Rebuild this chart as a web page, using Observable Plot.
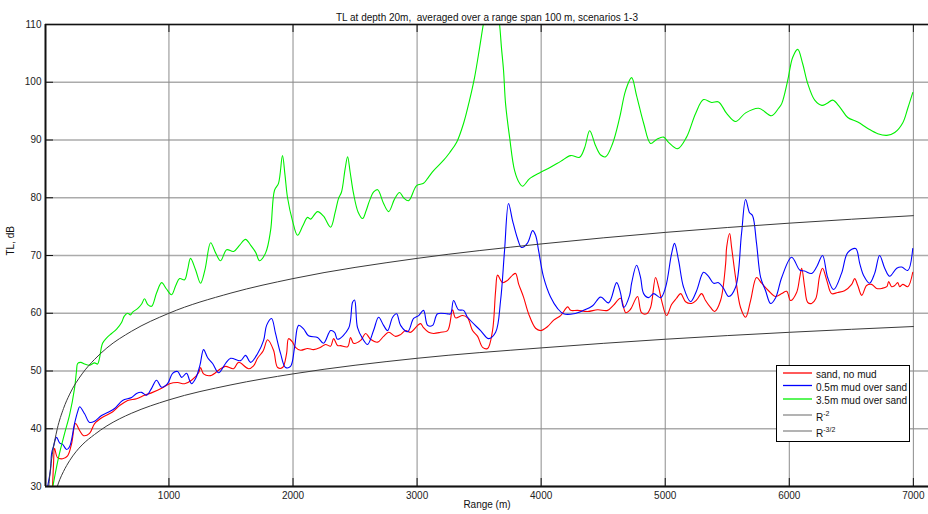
<!DOCTYPE html>
<html>
<head>
<meta charset="utf-8">
<script src="https://cdn.jsdelivr.net/npm/d3@7"></script>
<script src="https://cdn.jsdelivr.net/npm/@observablehq/plot@0.6"></script>
<style>
  html, body { margin: 0; padding: 0; background: #fff; }
  #wrap { position: relative; width: 928px; height: 514px; overflow: hidden; }
</style>
</head>
<body>
<div id="wrap"></div>
<script>
// ---------------- data ----------------
const titleText = "TL at depth 20m,  averaged over a range span 100 m, scenarios 1-3";
const xLabel = "Range (m)";
const yLabel = "TL, dB";
const xTicks = [1000, 2000, 3000, 4000, 5000, 6000, 7000];
const yTicks = [30, 40, 50, 60, 70, 80, 90, 100, 110];
const seriesNames = ["sand, no mud", "0.5m mud over sand", "3.5m mud over sand"];
const refNames = [["R", "-2"], ["R", "-3/2"]];

// scenario 3: 3.5 m mud over sand (green)
const greenRange = [60,110,159,200,239,255,264,290,320,360,400,425,440,465,500,538,580,618,640,667,690,707,747,780,803,830,860,900,941,980,1021,1055,1086,1126,1150,1174,1215,1255,1290,1336,1375,1416,1465,1521,1570,1617,1658,1700,1730,1780,1819,1851,1883,1915,1935,1956,1996,2036,2080,2117,2141,2198,2246,2303,2340,2367,2391,2420,2440,2460,2488,2525,2561,2590,2617,2650,2682,2730,2771,2819,2859,2891,2932,2996,3052,3090,3133,3214,3262,3319,3375,3423,3463,3504,3536,3570,3600,3640,3665,3680,3697,3713,3746,3786,3826,3850,3907,3996,4068,4157,4238,4310,4351,4391,4439,4480,4520,4576,4633,4681,4729,4769,4826,4882,4931,4987,5027,5100,5172,5245,5309,5374,5430,5495,5567,5648,5753,5857,5914,5939,5987,6027,6068,6108,6148,6205,6262,6302,6350,6407,6471,6552,6633,6713,6786,6850,6915,6955,6995];
const greenTL = [29.5,35,39.2,42.5,47,50,51.3,51.5,51.2,51,51.4,51.2,52.2,54.8,55.8,56.5,57.3,58.4,59.5,60,59.7,60.2,60.8,61.6,62.5,61.5,61.2,63.5,65.3,64.2,63.2,64.8,66,65.8,67.5,69.5,67.5,65.2,67.5,72.2,70.5,69.1,71,70.7,71.8,72.8,71.8,70.5,69.1,70.5,74.3,81.3,82.5,87.3,84,80,76,73.5,75.2,76.6,76.3,77.6,76.8,74.9,77.5,79.9,81,85,87.1,84.5,80.7,77.5,76.4,77.8,79.5,81,81.4,79,77.6,79.8,80.9,80,79.5,82.1,82.5,83.5,84.7,86.5,87.8,89.6,92.9,96.9,100.8,106,110.3,114,116,114,110,106,102,96.3,90.4,84.7,82.5,82,83.3,84.4,85.2,86.3,87.3,87,88.7,91.6,89,87.4,87.1,89.4,93.9,98.6,100.8,97.7,92.9,89.4,90.1,90.5,89.6,88.5,90.5,94.6,97,96.5,96.6,94.6,93.2,94.7,95.5,94.2,95.5,96.3,100.3,104.3,105.7,103.2,99.8,96.9,96,96.3,96.9,95.7,93.9,93.1,92,91.1,90.8,91.3,93,95.5,98.2];

// scenario 2: 0.5 m mud over sand (blue)
const blueRange = [22,46,54,70,94,120,143,175,199,239,265,280,320,360,401,457,505,562,626,699,739,779,820,860,900,941,989,1029,1070,1102,1142,1166,1182,1215,1250,1279,1312,1352,1400,1456,1497,1577,1617,1658,1714,1763,1787,1827,1859,1900,1940,1980,2012,2045,2085,2125,2198,2246,2303,2335,2359,2448,2480,2496,2520,2561,2601,2649,2690,2730,2762,2803,2835,2867,2924,2972,3013,3052,3085,3125,3165,3246,3270,3294,3334,3375,3407,3512,3576,3633,3673,3705,3737,3770,3810,3842,3891,3931,3955,3979,4020,4076,4133,4181,4262,4342,4415,4479,4544,4608,4640,4665,4713,4729,4769,4801,4826,4866,4906,4963,5003,5051,5075,5108,5148,5204,5253,5309,5349,5390,5430,5470,5511,5567,5615,5648,5680,5704,5736,5769,5809,5849,5890,5939,6019,6084,6124,6180,6220,6268,6309,6358,6421,6471,6535,6568,6600,6647,6688,6728,6769,6809,6866,6906,6955,6995];
const blueTL = [30,33,35.7,37,38.5,37.5,37.3,36.4,36.9,40.9,43,43.8,42.6,41.1,41.3,42.3,42.8,43.5,44.9,45.4,46.1,46.3,45.8,47,48.4,47.2,47.8,49.6,49.9,48.9,49.6,48.4,47.8,48.7,51,53.7,52.3,51.3,49.7,51.3,52.2,51.8,52.7,51.5,53,55.3,57.9,59.1,56.5,53,50.6,50.8,54,57.9,57.3,56.1,55.8,54.8,57,56.7,55.5,57.4,61.9,62.3,57.5,55.6,54.6,57,59.3,57.9,57,59.3,59.9,57.9,56.8,59.1,59.6,60.5,57.9,57.9,59.9,59.9,59.9,62.2,60.6,60.5,59.3,57,55.6,56.7,62.2,70.9,79,76,72.9,71.4,72.2,74.3,73.5,70.9,66.2,62.8,60.8,59.9,59.9,60.5,61.3,62.8,61.8,65.3,63.5,61,63.1,65.2,68.3,66.2,63.4,62.7,63.4,62.7,64.5,70.3,72.1,69.1,64.5,62,63.9,67.1,66.4,65.2,65.3,64.3,62.9,64.5,73.8,79.7,77.4,76.9,72.1,66.2,63.9,61.7,62.7,66.2,69.7,67.5,67.3,66.9,68,70,66.2,64.1,66.9,70.5,71.2,68.6,66.5,65.2,66.9,70,67.8,66.4,67.8,68,67.4,71.2];

// scenario 1: sand, no mud (red)
const redRange = [62,70,78,102,143,183,215,247,280,312,360,401,465,538,602,667,739,803,868,941,1005,1070,1126,1182,1239,1255,1279,1336,1416,1456,1521,1561,1642,1682,1714,1760,1795,1843,1876,1916,1948,1964,1996,2020,2061,2117,2166,2222,2262,2303,2327,2359,2383,2440,2464,2488,2545,2585,2625,2682,2730,2771,2827,2867,2907,2948,3005,3029,3052,3093,3133,3190,3246,3286,3310,3367,3407,3447,3488,3528,3568,3608,3633,3649,3689,3729,3770,3794,3818,3858,3899,3955,3996,4052,4101,4157,4214,4238,4294,4375,4455,4536,4584,4640,4681,4713,4729,4777,4809,4850,4882,4922,4947,4971,5011,5051,5091,5124,5164,5212,5253,5293,5325,5365,5398,5446,5487,5495,5519,5535,5567,5607,5648,5688,5736,5777,5833,5890,5939,5979,6010,6059,6084,6100,6124,6148,6180,6213,6245,6268,6302,6341,6390,6445,6503,6527,6552,6584,6623,6663,6704,6745,6786,6801,6825,6850,6874,6890,6915,6955,6995];
const redTL = [30,34,36.6,35,34.8,35.3,37.4,40.9,39.7,38.8,39.2,40.9,42,42.8,44,44.9,45.2,45.8,46.3,47,47.8,48,47.8,48.4,49.7,50.6,49.5,49.2,50.4,50.8,50.4,51.5,50.4,50.9,52.2,53.5,55.4,53.6,50.6,50.6,53,55.6,55,54.1,53.6,53.9,53.7,54.1,54.6,54.3,55.6,54.4,54.4,54.2,55.8,54.8,55.3,56.5,55.5,55,56,56.7,56,56.3,57,56.7,57.9,58.2,57.5,56.7,56.5,56.7,57,60.6,59.2,59.6,59.2,57,56,54.1,53.9,57,63.9,66.6,65.3,65.7,66.6,66.9,65.1,62.8,59.9,57.4,57,57.7,58.8,59.6,61.1,60.5,60.5,60.3,60.6,60.5,61.4,62.6,60.1,60.5,61,62.9,60.1,59.9,61,66.2,64.5,62.2,59.6,61.5,62.6,63.4,62,61.7,62.3,63.4,62.2,61,60.3,62.2,68.6,71.4,73.8,71.4,66.2,61,59.3,62.2,66.2,65.2,63.9,62.9,63.4,63.8,62.2,63.6,66.2,67.8,64.5,61.9,61.7,62.5,66.5,67.8,65.7,63.4,63.6,63.9,65,66,64.8,63.1,64.8,65,64.3,64.3,64.6,65.5,64.6,64.8,65.3,64.6,65,64.6,67.1];

// reference curves R^-2 and R^-3/2
const r2Range = [32,35,40,45,50,60,70,80,100,150,200,300,400,500,700,1000,1500,2000,3000,4000,5000,6000,7000];
const r2TL = [30.1,30.9,32,33.1,34,35.6,36.9,38,40,43.5,46,49.5,52,54,56.9,60,63.5,66,69.5,72,74,75.6,76.9];
const r32Range = [100,120,150,200,250,300,400,500,600,700,1000,1500,2000,3000,4000,5000,6000,7000];
const r32TL = [30,31.2,32.6,34.5,36,37.2,39,40.5,41.7,42.7,45,47.6,49.5,52.2,54,55.5,56.7,57.7];

// ---------------- build ----------------
function pairs(xs, ys, name) {
  if (xs.length !== ys.length) throw new Error(name + " length mismatch " + xs.length + " vs " + ys.length);
  return xs.map((r, i) => ({r, tl: ys[i]}));
}
const red = pairs(redRange, redTL, "red");
const blue = pairs(blueRange, blueTL, "blue");
const green = pairs(greenRange, greenTL, "green");
const r2 = pairs(r2Range, r2TL, "r2");
const r32 = pairs(r32Range, r32TL, "r32");

const W = 928, H = 514;
const mL = 45, mR = 0, mT = 24, mB = 28;
const fw = W - mL - mR, fh = H - mT - mB;
const refColor = "#3a3a3a";
const colors = ["#ff0000", "#0000ff", "#00f000"];
const font = "'Liberation Sans', Arial, Helvetica, sans-serif";

const chart = Plot.plot({
  width: W,
  height: H,
  marginLeft: mL,
  marginRight: mR,
  marginTop: mT,
  marginBottom: mB,
  style: {fontFamily: font, fontSize: "10px", background: "#fff", color: "#222"},
  x: {domain: [5, 7122], ticks: xTicks, tickSize: 0, tickPadding: 5, tickFormat: d => String(d), label: null},
  y: {domain: [30, 110], ticks: yTicks, tickSize: 0, tickPadding: 4, tickFormat: d => String(d), label: null},
  marks: [
    Plot.gridY(yTicks, {stroke: "#ababab", strokeOpacity: 1, strokeWidth: 1.5}),
    Plot.gridX(xTicks, {stroke: "#8c8c8c", strokeOpacity: 1, strokeWidth: 1}),
    Plot.line(red, {x: "r", y: "tl", stroke: colors[0], strokeWidth: 1.1, curve: "catmull-rom", clip: true}),
    Plot.line(blue, {x: "r", y: "tl", stroke: colors[1], strokeWidth: 1.1, curve: "catmull-rom", clip: true}),
    Plot.line(green, {x: "r", y: "tl", stroke: colors[2], strokeWidth: 1.1, curve: "catmull-rom", clip: true}),
    Plot.line(r2, {x: "r", y: "tl", stroke: refColor, strokeWidth: 1, curve: "monotone-x", clip: true}),
    Plot.line(r32, {x: "r", y: "tl", stroke: refColor, strokeWidth: 1, curve: "monotone-x", clip: true}),
    // box lines
    Plot.ruleY([110], {stroke: "#111", strokeWidth: 1.5}),
    Plot.ruleY([30], {stroke: "#111", strokeWidth: 2}),
    Plot.ruleX([5], {stroke: "#111", strokeWidth: 2}),
    // inward ticks
    Plot.tickX(xTicks, {x: d => d, insetTop: fh - 8, stroke: "#111", strokeWidth: 1}),
    Plot.tickX(xTicks, {x: d => d, insetBottom: fh - 8, stroke: "#111", strokeWidth: 1}),
    Plot.tickY(yTicks, {y: d => d, insetRight: fw - 8, stroke: "#111", strokeWidth: 1}),
    // texts
    Plot.text([titleText], {frameAnchor: "top", dy: -11, fontSize: 10, fill: "#111"}),
    Plot.text([xLabel], {frameAnchor: "bottom", dy: 21, fontSize: 10, fill: "#111"}),
    Plot.text([yLabel], {frameAnchor: "left", dx: -35, rotate: -90, fontSize: 10, fill: "#111"})
  ]
});

document.getElementById("wrap").appendChild(chart);

// legend drawn into the same SVG
const svg = d3.select(chart);
const lg = svg.append("g")
  .attr("font-family", font).attr("font-size", 10).attr("fill", "#111")
  .attr("text-anchor", "start");
const lx = 776.5, ly = 365.5, lw = 133, lh = 76;
lg.append("rect").attr("x", lx).attr("y", ly).attr("width", lw).attr("height", lh)
  .attr("fill", "#fff").attr("stroke", "#000").attr("stroke-width", 1);
const rows = [
  {text: seriesNames[0], color: colors[0], lineY: 373, base: 377.5},
  {text: seriesNames[1], color: colors[1], lineY: 385.5, base: 390.5},
  {text: seriesNames[2], color: colors[2], lineY: 399, base: 404},
  {ref: refNames[0], color: "#8a8a8a", lineY: 415, base: 420.5},
  {ref: refNames[1], color: "#8a8a8a", lineY: 431, base: 436.5}
];
for (const r of rows) {
  lg.append("line").attr("x1", 783).attr("x2", 812).attr("y1", r.lineY).attr("y2", r.lineY)
    .attr("stroke", r.color).attr("stroke-width", 1.3);
  const t = lg.append("text").attr("x", 816).attr("y", r.base).attr("text-anchor", "start");
  if (r.text) t.text(r.text);
  else {
    t.append("tspan").text(r.ref[0]);
    t.append("tspan").attr("dy", -5).attr("font-size", 7).text(r.ref[1]);
  }
}
</script>
</body>
</html>
